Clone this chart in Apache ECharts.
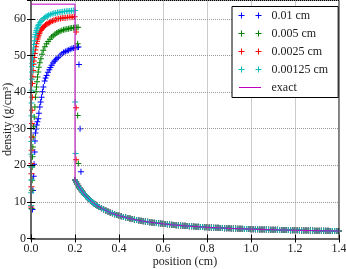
<!DOCTYPE html>
<html>
<head>
<meta charset="utf-8">
<script src="https://cdn.jsdelivr.net/npm/echarts@6/dist/echarts.min.js"></script>
<style>
html,body{margin:0;padding:0;background:#fff;}
#chart{width:346px;height:269px;}
</style>
</head>
<body>
<div id="chart"></div>
<script>
// ---- data ----
const seriesNames = ['0.01 cm', '0.005 cm', '0.0025 cm', '0.00125 cm', 'exact'];
const xTicks = [0.0, 0.2, 0.4, 0.6, 0.8, 1.0, 1.2, 1.4];
const yTicks = [0, 10, 20, 30, 40, 50, 60];

// shocked region + shock transition, per resolution
const posBlue = [0.007,0.009,0.012,0.014,0.017,0.018,0.020,0.023,0.026,0.029,0.033,0.036,0.040,0.044,0.048,0.052,0.056,0.062,0.066,0.071,0.077,0.083,0.088,0.094,0.100,0.106,0.112,0.118,0.124,0.132,0.140,0.148,0.156,0.164,0.170,0.178,0.186,0.194,0.202,0.210,0.216,0.218,0.223,0.227];
const rhoBlue = [7.9,13.1,17.0,20.3,23.6,26.6,28.8,29.9,31.0,31.9,32.7,34.2,35.9,37.3,38.6,40.1,41.4,43.0,43.8,44.5,45.4,46.1,46.7,47.3,47.9,48.4,48.8,49.2,49.5,50.0,50.4,50.8,51.1,51.3,51.4,51.7,51.9,52.05,52.15,52.25,52.3,47.5,30.0,18.2];

const posGreen = [0.0024,0.004,0.0055,0.0055,0.007,0.0085,0.010,0.0116,0.0146,0.0176,0.0207,0.0230,0.0252,0.0275,0.0298,0.0328,0.0359,0.040,0.045,0.050,0.0556,0.063,0.0708,0.078,0.086,0.0936,0.101,0.109,0.117,0.124,0.132,0.140,0.148,0.155,0.163,0.170,0.178,0.185,0.193,0.200,0.208,0.214,0.212,0.212,0.215];
const rhoGreen = [8.2,13.2,15.9,19.5,22.3,25.0,27.7,30.5,33.2,35.9,38.6,40.1,41.4,42.8,44.1,45.5,46.8,48.0,49.1,50.3,51.4,52.4,53.2,53.8,54.4,55.0,55.4,55.8,56.1,56.4,56.6,56.8,57.0,57.1,57.2,57.3,57.4,57.5,57.55,57.6,57.65,57.7,53.2,33.6,20.5];

const posRed = [0.001,0.0018,0.0022,0.0026,0.003,0.0036,0.0042,0.005,0.0058,0.0068,0.0082,0.010,0.0115,0.013,0.015,0.0175,0.020,0.0225,0.025,0.0275,0.030,0.0325,0.035,0.0375,0.040,0.044,0.048,0.052,0.056,0.061,0.066,0.072,0.078,0.084,0.090,0.097,0.104,0.111,0.118,0.126,0.134,0.142,0.150,0.158,0.166,0.174,0.182,0.190,0.198,0.205,0.205,0.205];
const rhoRed = [8.6,14.1,17.7,20.5,24.1,27.7,31.4,35.0,38.6,42.3,44.2,45.9,47.6,48.5,49.4,50.5,51.5,52.4,53.2,53.9,54.5,55.0,55.5,56.0,56.4,56.8,57.2,57.5,57.7,58.0,58.3,58.55,58.8,59.0,59.2,59.4,59.6,59.75,59.9,60.0,60.1,60.2,60.25,60.3,60.35,60.4,60.45,60.5,60.55,56.4,35.7,21.5];

const posCyan = [0.0008,0.0011,0.0013,0.0015,0.0017,0.0019,0.0021,0.0024,0.0028,0.0033,0.004,0.0048,0.0055,0.006,0.007,0.008,0.0095,0.011,0.013,0.015,0.0175,0.020,0.0225,0.025,0.0275,0.030,0.0325,0.035,0.040,0.045,0.050,0.056,0.062,0.068,0.074,0.080,0.088,0.096,0.104,0.112,0.120,0.128,0.136,0.144,0.152,0.160,0.168,0.176,0.184,0.192,0.200,0.201,0.203];
const rhoCyan = [9,12.5,16,19.5,23,26.5,30,33.5,37,40.5,43.5,45.5,47,47.8,49,50,51,52,53,54,55,55.7,56.3,56.8,57.3,57.7,58.1,58.4,58.9,59.3,59.7,60.0,60.3,60.6,60.8,61.0,61.2,61.35,61.5,61.6,61.7,61.8,61.85,61.9,62.0,62.05,62.1,62.15,62.2,62.25,62.3,37.3,23.2];

// unshocked region (all resolutions lie on the exact curve)
const posOuter = [0.200,0.205,0.210,0.215,0.220,0.225,0.230,0.235,0.240,0.245,0.250,0.255,0.260,0.265,0.270,0.275,0.280,0.285,0.290,0.295,0.300,
  0.31,0.32,0.33,0.34,0.35,0.36,0.37,0.38,0.39,0.40,0.41,0.42,0.43,0.44,0.45,0.46,0.47,0.48,0.49,0.50,
  0.51,0.52,0.53,0.54,0.55,0.56,0.57,0.58,0.59,0.60,0.61,0.62,0.63,0.64,0.65,0.66,0.67,0.68,0.69,0.70,
  0.71,0.72,0.73,0.74,0.75,0.76,0.77,0.78,0.79,0.80,0.81,0.82,0.83,0.84,0.85,0.86,0.87,0.88,0.89,0.90,
  0.91,0.92,0.93,0.94,0.95,0.96,0.97,0.98,0.99,1.00,1.01,1.02,1.03,1.04,1.05,1.06,1.07,1.08,1.09,1.10,
  1.11,1.12,1.13,1.14,1.15,1.16,1.17,1.18,1.19,1.20,1.21,1.22,1.23,1.24,1.25,1.26,1.27,1.28,1.29,1.30,
  1.31,1.32,1.33,1.34,1.35,1.36,1.37,1.38,1.39,1.40];
const rhoOuter = [16.00,15.42,14.88,14.37,13.89,13.44,13.02,12.63,12.25,11.90,11.56,11.24,10.94,10.66,10.38,10.12,9.88,9.64,9.42,9.20,9.00,
  8.62,8.27,7.94,7.64,7.37,7.11,6.87,6.65,6.44,6.25,6.07,5.90,5.74,5.59,5.44,5.31,5.18,5.06,4.95,4.84,
  4.74,4.64,4.55,4.46,4.37,4.29,4.21,4.14,4.07,4.00,3.94,3.87,3.81,3.75,3.70,3.64,3.59,3.54,3.50,3.45,
  3.40,3.36,3.32,3.28,3.24,3.20,3.17,3.13,3.10,3.06,3.03,3.00,2.97,2.94,2.91,2.88,2.86,2.83,2.80,2.78,
  2.75,2.73,2.71,2.68,2.66,2.64,2.62,2.60,2.58,2.56,2.54,2.52,2.50,2.49,2.47,2.45,2.44,2.42,2.40,2.39,
  2.37,2.36,2.34,2.33,2.32,2.30,2.29,2.28,2.26,2.25,2.24,2.23,2.21,2.20,2.19,2.18,2.17,2.16,2.15,2.14,
  2.13,2.12,2.11,2.10,2.09,2.08,2.07,2.06,2.05,2.04];

// exact solution: shocked plateau, then the unshocked curve
const posExactPlateau = [0.0, 0.2];
const rhoExactPlateau = [64, 64];

// ---- chart ----
const FONT = 'Liberation Serif';
const colors = ['#0000ff', '#008000', '#ff0000', '#00bfbf', '#bf00bf'];
const PLUS = 'path://M2.5,0h1v2.5h2.5v1h-2.5v2.5h-1v-2.5h-2.5v-1h2.5z';
// legend handle: two "+" marks joined by zero-area bridges, in a 28x6 box (single sub-path)
const PLUS2 = 'path://M6,3L17,3L17,2.5L19.5,2.5L19.5,0L20.5,0L20.5,2.5L23,2.5L23,3L28,3L23,3L23,3.5L20.5,3.5L20.5,6L19.5,6L19.5,3.5L17,3.5L17,3L6,3L6,3.5L3.5,3.5L3.5,6L2.5,6L2.5,3.5L0,3.5L0,2.5L2.5,2.5L2.5,0L3.5,0L3.5,2.5L6,2.5Z';
const LINEICON = 'path://M0,3L0.5,3L0.5,2.5L11,2.5L11,0L11,2.5L22.5,2.5L22.5,3L28,3L22.5,3L22.5,3.5L11,3.5L11,6L11,3.5L0.5,3.5L0.5,3Z';

function pairs(xs, ys) { return xs.map((x, i) => [x, ys[i]]); }

const inner = [[posBlue, rhoBlue], [posGreen, rhoGreen], [posRed, rhoRed], [posCyan, rhoCyan]];
const series = inner.map((d, k) => ({
  name: seriesNames[k],
  type: 'scatter',
  symbol: PLUS,
  symbolSize: 6,
  silent: true,
  itemStyle: { color: colors[k], opacity: 1, borderWidth: 0 },
  data: pairs(d[0], d[1]).concat(pairs(posOuter, rhoOuter))
}));
series.push({
  name: seriesNames[4],
  type: 'line',
  symbol: 'none',
  showSymbol: false,
  silent: true,
  lineStyle: { color: colors[4], width: 1 },
  itemStyle: { color: colors[4] },
  data: pairs(posExactPlateau, rhoExactPlateau).concat(pairs(posOuter, rhoOuter))
});

const xmin = xTicks[0], xmax = xTicks[xTicks.length - 1];
const xint = xTicks[1] - xTicks[0];
const yint = yTicks[1] - yTicks[0];

const legendData = seriesNames.map((n, k) => ({
  name: n,
  icon: k < 4 ? PLUS2 : LINEICON,
  itemStyle: { color: colors[k], borderWidth: 0, borderColor: colors[k], opacity: 1 },
  lineStyle: { color: colors[k], width: 0 }
}));

const option = {
  animation: false,
  backgroundColor: '#fff',
  color: colors,
  grid: { left: 31, right: 7, top: 0.5, bottom: 30.5, containLabel: false, outerBoundsMode: 'none',
          show: true, borderColor: '#000', borderWidth: 1, z: 3 },
  xAxis: [{
    type: 'value', min: xmin, max: xmax, interval: xint, position: 'bottom', z: 3,
    name: 'position (cm)', nameLocation: 'middle', nameGap: 17, nameMoveOverlap: false,
    nameTextStyle: { fontFamily: FONT, fontSize: 12, color: '#222' },
    axisLine: { show: true, lineStyle: { color: '#666', width: 2 } },
    axisTick: { show: true, inside: true, length: 4, lineStyle: { color: '#000' } },
    axisLabel: { fontFamily: FONT, fontSize: 12, color: '#222', margin: 4, formatter: v => v.toFixed(1) },
    splitLine: { show: true, lineStyle: { color: '#999', type: 'dotted', width: 1 } }
  }, {
    type: 'value', min: xmin, max: xmax, interval: xint, position: 'top', z: 3,
    axisLine: { show: false },
    axisTick: { show: true, inside: true, length: 4, lineStyle: { color: '#000' } },
    axisLabel: { show: false },
    splitLine: { show: false }
  }],
  yAxis: [{
    type: 'value', min: 0, max: 65, interval: yint, position: 'left', z: 3,
    name: 'density (g/cm³)', nameLocation: 'middle', nameGap: 17, nameMoveOverlap: false,
    nameTextStyle: { fontFamily: FONT, fontSize: 12, color: '#222' },
    axisLine: { show: true, lineStyle: { color: '#666', width: 2 } },
    axisTick: { show: true, inside: true, length: 4, lineStyle: { color: '#000' } },
    axisLabel: { fontFamily: FONT, fontSize: 12, color: '#222', margin: 5, showMaxLabel: false,
      formatter: v => (yTicks.indexOf(v) >= 0 ? String(v) : '') },
    splitLine: { show: true, lineStyle: { color: '#999', type: 'dotted', width: 1 } }
  }, {
    type: 'value', min: 0, max: 65, interval: yint, position: 'right', z: 3,
    axisLine: { show: false },
    axisTick: { show: true, inside: true, length: 4, lineStyle: { color: '#000' } },
    axisLabel: { show: false },
    splitLine: { show: false }
  }],
  legend: {
    left: 232, top: 6.5, orient: 'vertical',
    itemWidth: 28, itemHeight: 6, itemGap: 4,
    padding: [2, 10, 3, 6.5],
    borderColor: '#000', borderWidth: 1, borderRadius: 0, backgroundColor: '#fff',
    selectedMode: false,
    textStyle: { fontFamily: FONT, fontSize: 12, color: '#222', lineHeight: 14 },
    data: legendData
  },
  series: series
};

const chart = echarts.init(document.getElementById('chart'), null, { renderer: 'canvas' });
chart.setOption(option);
</script>
</body>
</html>
